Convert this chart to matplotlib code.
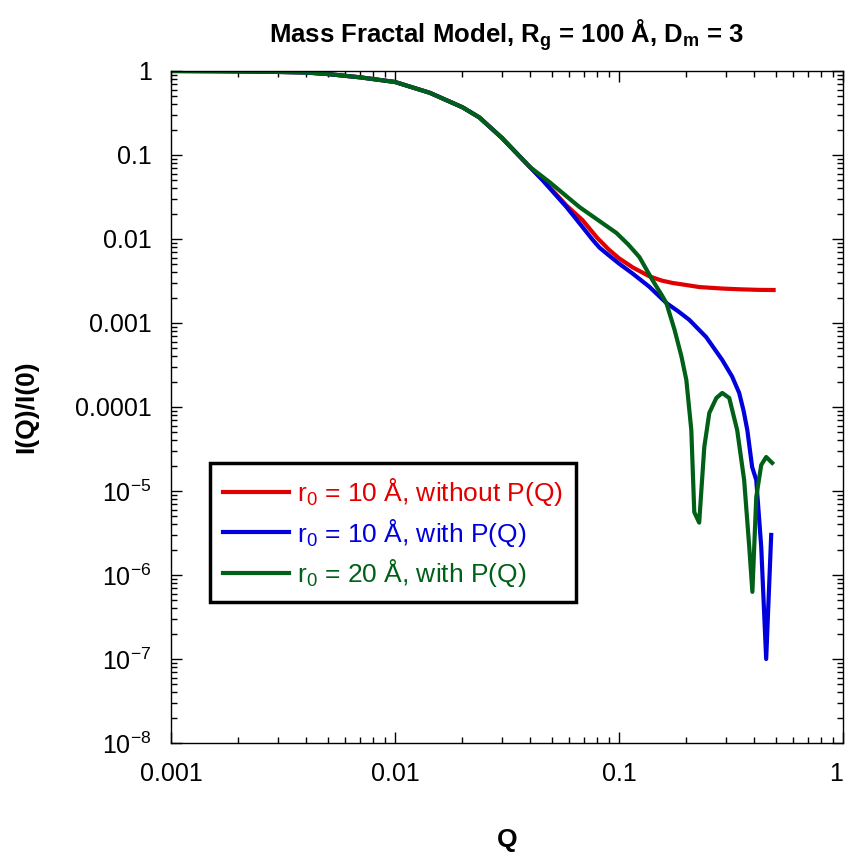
import numpy as np
import matplotlib
matplotlib.use("Agg")
import matplotlib.pyplot as plt
from matplotlib.ticker import FixedLocator, FixedFormatter, LogLocator, NullFormatter

plt.rcParams["font.family"] = ["Liberation Sans", "DejaVu Sans"]
plt.rcParams["mathtext.default"] = "regular"

# ---- data (Q, I(Q)/I(0)) ----
# all three curves overlap at low Q
q_common = [0.001, 0.0015, 0.002, 0.003, 0.004, 0.005, 0.007, 0.01, 0.0143,
            0.02, 0.0238, 0.03, 0.04]
i_common = [1.0, 0.995, 0.99, 0.975, 0.96, 0.92, 0.84, 0.74, 0.55,
            0.37, 0.28, 0.16, 0.072]

q_red = [0.0456, 0.0583, 0.0687, 0.08, 0.09, 0.1, 0.115, 0.1366, 0.155, 0.173,
         0.2, 0.228, 0.29, 0.344, 0.42, 0.49]
i_red = [0.051, 0.025, 0.0168, 0.0103, 0.0075, 0.0059, 0.0046, 0.0036, 0.0032, 0.0030,
         0.00283, 0.00268, 0.00257, 0.00252, 0.00248, 0.00247]

q_blue = [0.0456, 0.0583, 0.0687, 0.076, 0.0818, 0.09, 0.1, 0.1147, 0.1366, 0.1627,
          0.185, 0.206, 0.245, 0.289, 0.32, 0.344, 0.36, 0.374, 0.393, 0.41, 0.4315,
          0.454, 0.478]
i_blue = [0.050, 0.024, 0.0139, 0.0099, 0.0079, 0.0064, 0.0051, 0.0039, 0.0027, 0.00173,
          0.00136, 0.00109, 6.8e-4, 3.63e-4, 2.3e-4, 1.47e-4, 9.0e-5, 5.3e-5, 1.93e-5,
          1.35e-5, 2.15e-6, 1.0e-7, 3.0e-6]

q_green = [0.0489, 0.0666, 0.0974, 0.11, 0.1233, 0.141, 0.156, 0.1627, 0.177,
           0.19, 0.1998, 0.2103, 0.2168, 0.228, 0.2403, 0.253, 0.272, 0.289, 0.3106,
           0.337, 0.362, 0.3815, 0.394, 0.41, 0.4315, 0.454, 0.483]
i_green = [0.0477, 0.024, 0.0118, 0.0086, 0.0061, 0.00325, 0.0021, 0.00173, 8.3e-4,
           4.0e-4, 2.1e-4, 5.3e-5, 5.6e-6, 4.2e-6, 3.34e-5, 8.5e-5, 1.28e-4, 1.47e-4,
           1.28e-4, 5.3e-5, 1.35e-5, 2.15e-6, 6.3e-7, 8.5e-6, 2.04e-5, 2.54e-5, 2.16e-5]

labels = ["r$_0$ = 10 Å, without P(Q)",
          "r$_0$ = 10 Å, with P(Q)",
          "r$_0$ = 20 Å, with P(Q)"]
colors = ["#e00000", "#0000dd", "#006018"]

xticks = [0.001, 0.01, 0.1, 1]
xticklabels = ["0.001", "0.01", "0.1", "1"]
yticks = [1e-8, 1e-7, 1e-6, 1e-5, 1e-4, 1e-3, 1e-2, 1e-1, 1]
yticklabels = ["10$^{-8}$", "10$^{-7}$", "10$^{-6}$", "10$^{-5}$",
               "0.0001", "0.001", "0.01", "0.1", "1"]

fig = plt.figure(figsize=(8.48, 8.52), dpi=100)
ax = fig.add_axes([171 / 848, 1 - 743 / 852, 672 / 848, 672 / 852])

series = [(q_red, i_red), (q_blue, i_blue), (q_green, i_green)]
for (q, i), lab, c in zip(series, labels, colors):
    ax.plot(q_common + q, i_common + i, color=c, lw=3, label=lab)

ax.set_xscale("log"); ax.set_yscale("log")
ax.set_xlim(0.001, 1); ax.set_ylim(1e-8, 1)

ax.xaxis.set_major_locator(FixedLocator(xticks))
ax.xaxis.set_major_formatter(FixedFormatter(xticklabels))
ax.yaxis.set_major_locator(FixedLocator(yticks))
ax.yaxis.set_major_formatter(FixedFormatter(yticklabels))
for a in (ax.xaxis, ax.yaxis):
    a.set_minor_locator(LogLocator(base=10, subs=np.arange(2, 10), numticks=20))
    a.set_minor_formatter(NullFormatter())

ax.tick_params(which="both", direction="in", top=True, right=True, width=1, colors="black")
ax.tick_params(which="major", length=8, labelsize=18, pad=14)
ax.tick_params(which="minor", length=4)
for s in ax.spines.values():
    s.set_linewidth(1.0)
# keep the "1" at the right end inside the canvas
ax.get_xticklabels()[-1].set_horizontalalignment("right")
ax.get_xticklabels()[-1].set_x(1)

ax.set_xlabel("Q", fontsize=19, fontweight="bold", labelpad=30)
ax.set_ylabel("I(Q)/I(0)", fontsize=19, fontweight="bold", labelpad=26)
ax.set_title("Mass Fractal Model, R$_g$ = 100 Å, D$_m$ = 3",
             fontsize=18.5, fontweight="bold", pad=20)

leg = ax.legend(loc="upper left", bbox_to_anchor=(0.058, 0.4167), borderaxespad=0,
                fontsize=19, labelcolor="linecolor", fancybox=False, framealpha=1,
                edgecolor="black", handlelength=2.5, handletextpad=0.3,
                labelspacing=0.32, borderpad=0.5)
leg.get_frame().set_linewidth(2.5)

fig.savefig("out.png", dpi=100)
